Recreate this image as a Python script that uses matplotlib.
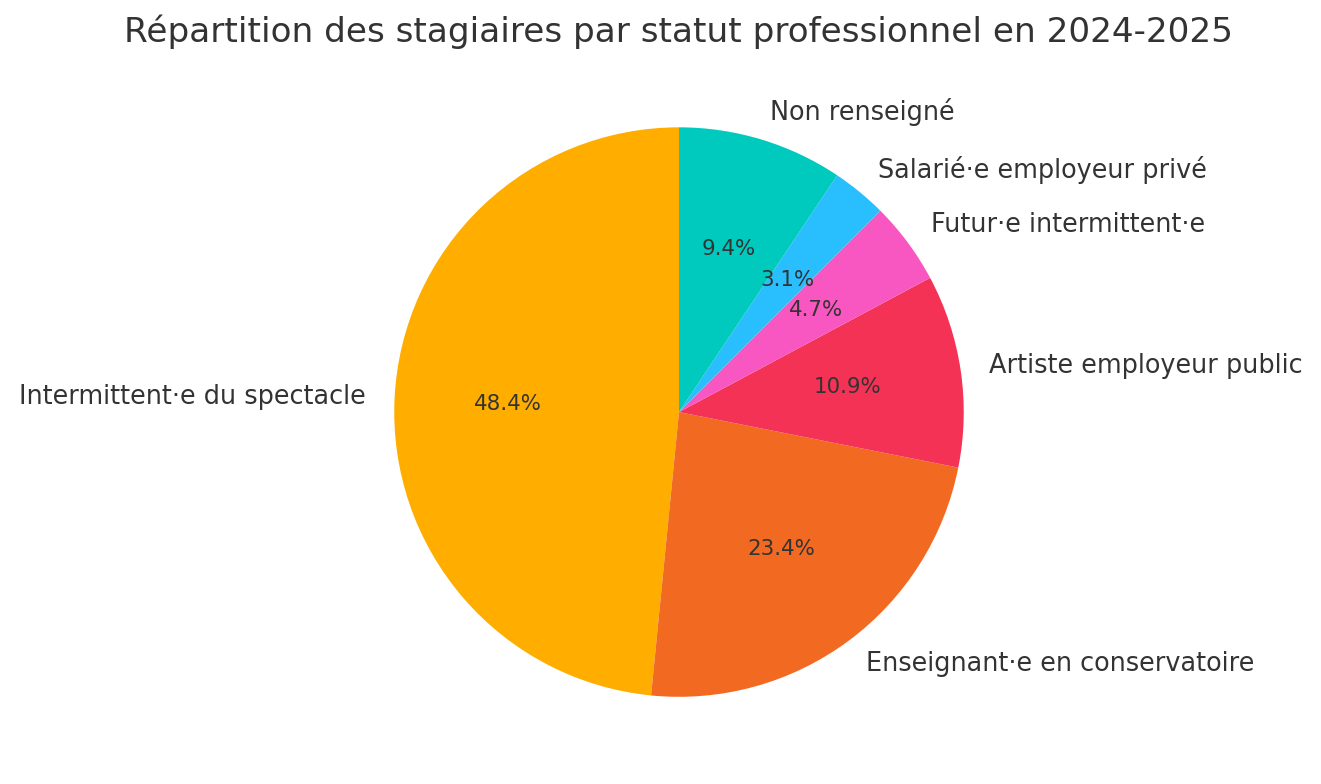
import matplotlib.pyplot as plt

labels = ["Intermittent·e du spectacle", "Enseignant·e en conservatoire", "Artiste employeur public",
          "Futur·e intermittent·e", "Salarié·e employeur privé", "Non renseigné"]
counts = [31, 15, 7, 3, 2, 6]
colors = ["#FFAE00", "#F26922", "#F43255", "#F857C1", "#29BFFF", "#00C9BE"]
title = "Répartition des stagiaires par statut professionnel en 2024-2025"

txt = "#333333"
fig = plt.figure(figsize=(13.21, 7.84), dpi=100)
ax = fig.add_axes([0.2445, 0.0204, 0.539, 0.908])
wedges, texts, autotexts = ax.pie(counts, labels=labels, colors=colors, autopct="%1.1f%%",
                                  startangle=90, textprops={"color": txt, "fontsize": 18.4})
for t in autotexts:
    t.set_fontsize(15.4)
ax.set_aspect("equal")
fig.text(679 / 1321, 1 - 32 / 784, title, ha="center", va="center", fontsize=24.7, color=txt)
fig.savefig("out.png", dpi=100)
